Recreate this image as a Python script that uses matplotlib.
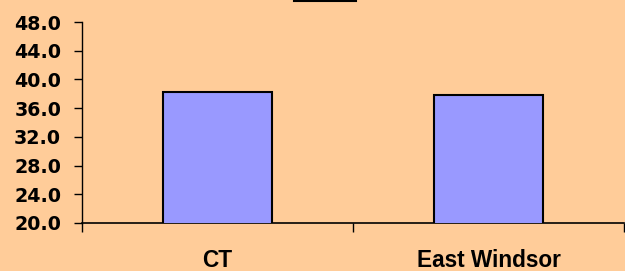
import matplotlib.pyplot as plt
from matplotlib.lines import Line2D

categories = ["CT", "East Windsor"]
values = [38.2, 37.8]
y_ticks = [20.0, 24.0, 28.0, 32.0, 36.0, 40.0, 44.0, 48.0]


def main():
    plt.rcParams['font.family'] = ['Liberation Sans', 'DejaVu Sans']
    bg = "#FFCC99"
    fig = plt.figure(figsize=(6.25, 2.71), dpi=100, facecolor=bg)
    ax = fig.add_axes([82 / 625, 1 - 223 / 271, 542 / 625, 201 / 271])
    ax.set_facecolor(bg)

    x = list(range(len(categories)))
    ax.bar(x, values, width=0.4, bottom=0, color="#9999FF",
           edgecolor="black", linewidth=1.5, zorder=3)

    ax.set_xlim(-0.5, len(categories) - 0.5)
    ax.set_ylim(20, 48)
    ax.set_yticks(y_ticks)
    ax.set_yticklabels([f"{v:.1f}" for v in y_ticks], fontsize=13.7,
                       fontweight="bold", family="DejaVu Sans")
    ax.tick_params(axis="y", direction="out", length=6, width=1, pad=9)

    ax.set_xticks(x)
    ax.set_xticklabels(categories, fontsize=16.3, fontweight="bold")
    ax.tick_params(axis="x", which="major", length=0, pad=19)
    ax.set_xticks([-0.5, 0.5, 1.5], minor=True)
    ax.tick_params(axis="x", which="minor", direction="out",
                   length=6.5, width=1)

    for side in ["top", "right"]:
        ax.spines[side].set_visible(False)
    ax.spines["left"].set_linewidth(1)
    ax.spines["bottom"].set_linewidth(1.2)

    # bit of a box cut off at the top edge
    fig.add_artist(Line2D([294 / 625, 356 / 625], [0.998, 0.998],
                          transform=fig.transFigure, color="black",
                          linewidth=1.5))

    fig.savefig("out.png", dpi=100, facecolor=bg)


if __name__ == "__main__":
    main()
